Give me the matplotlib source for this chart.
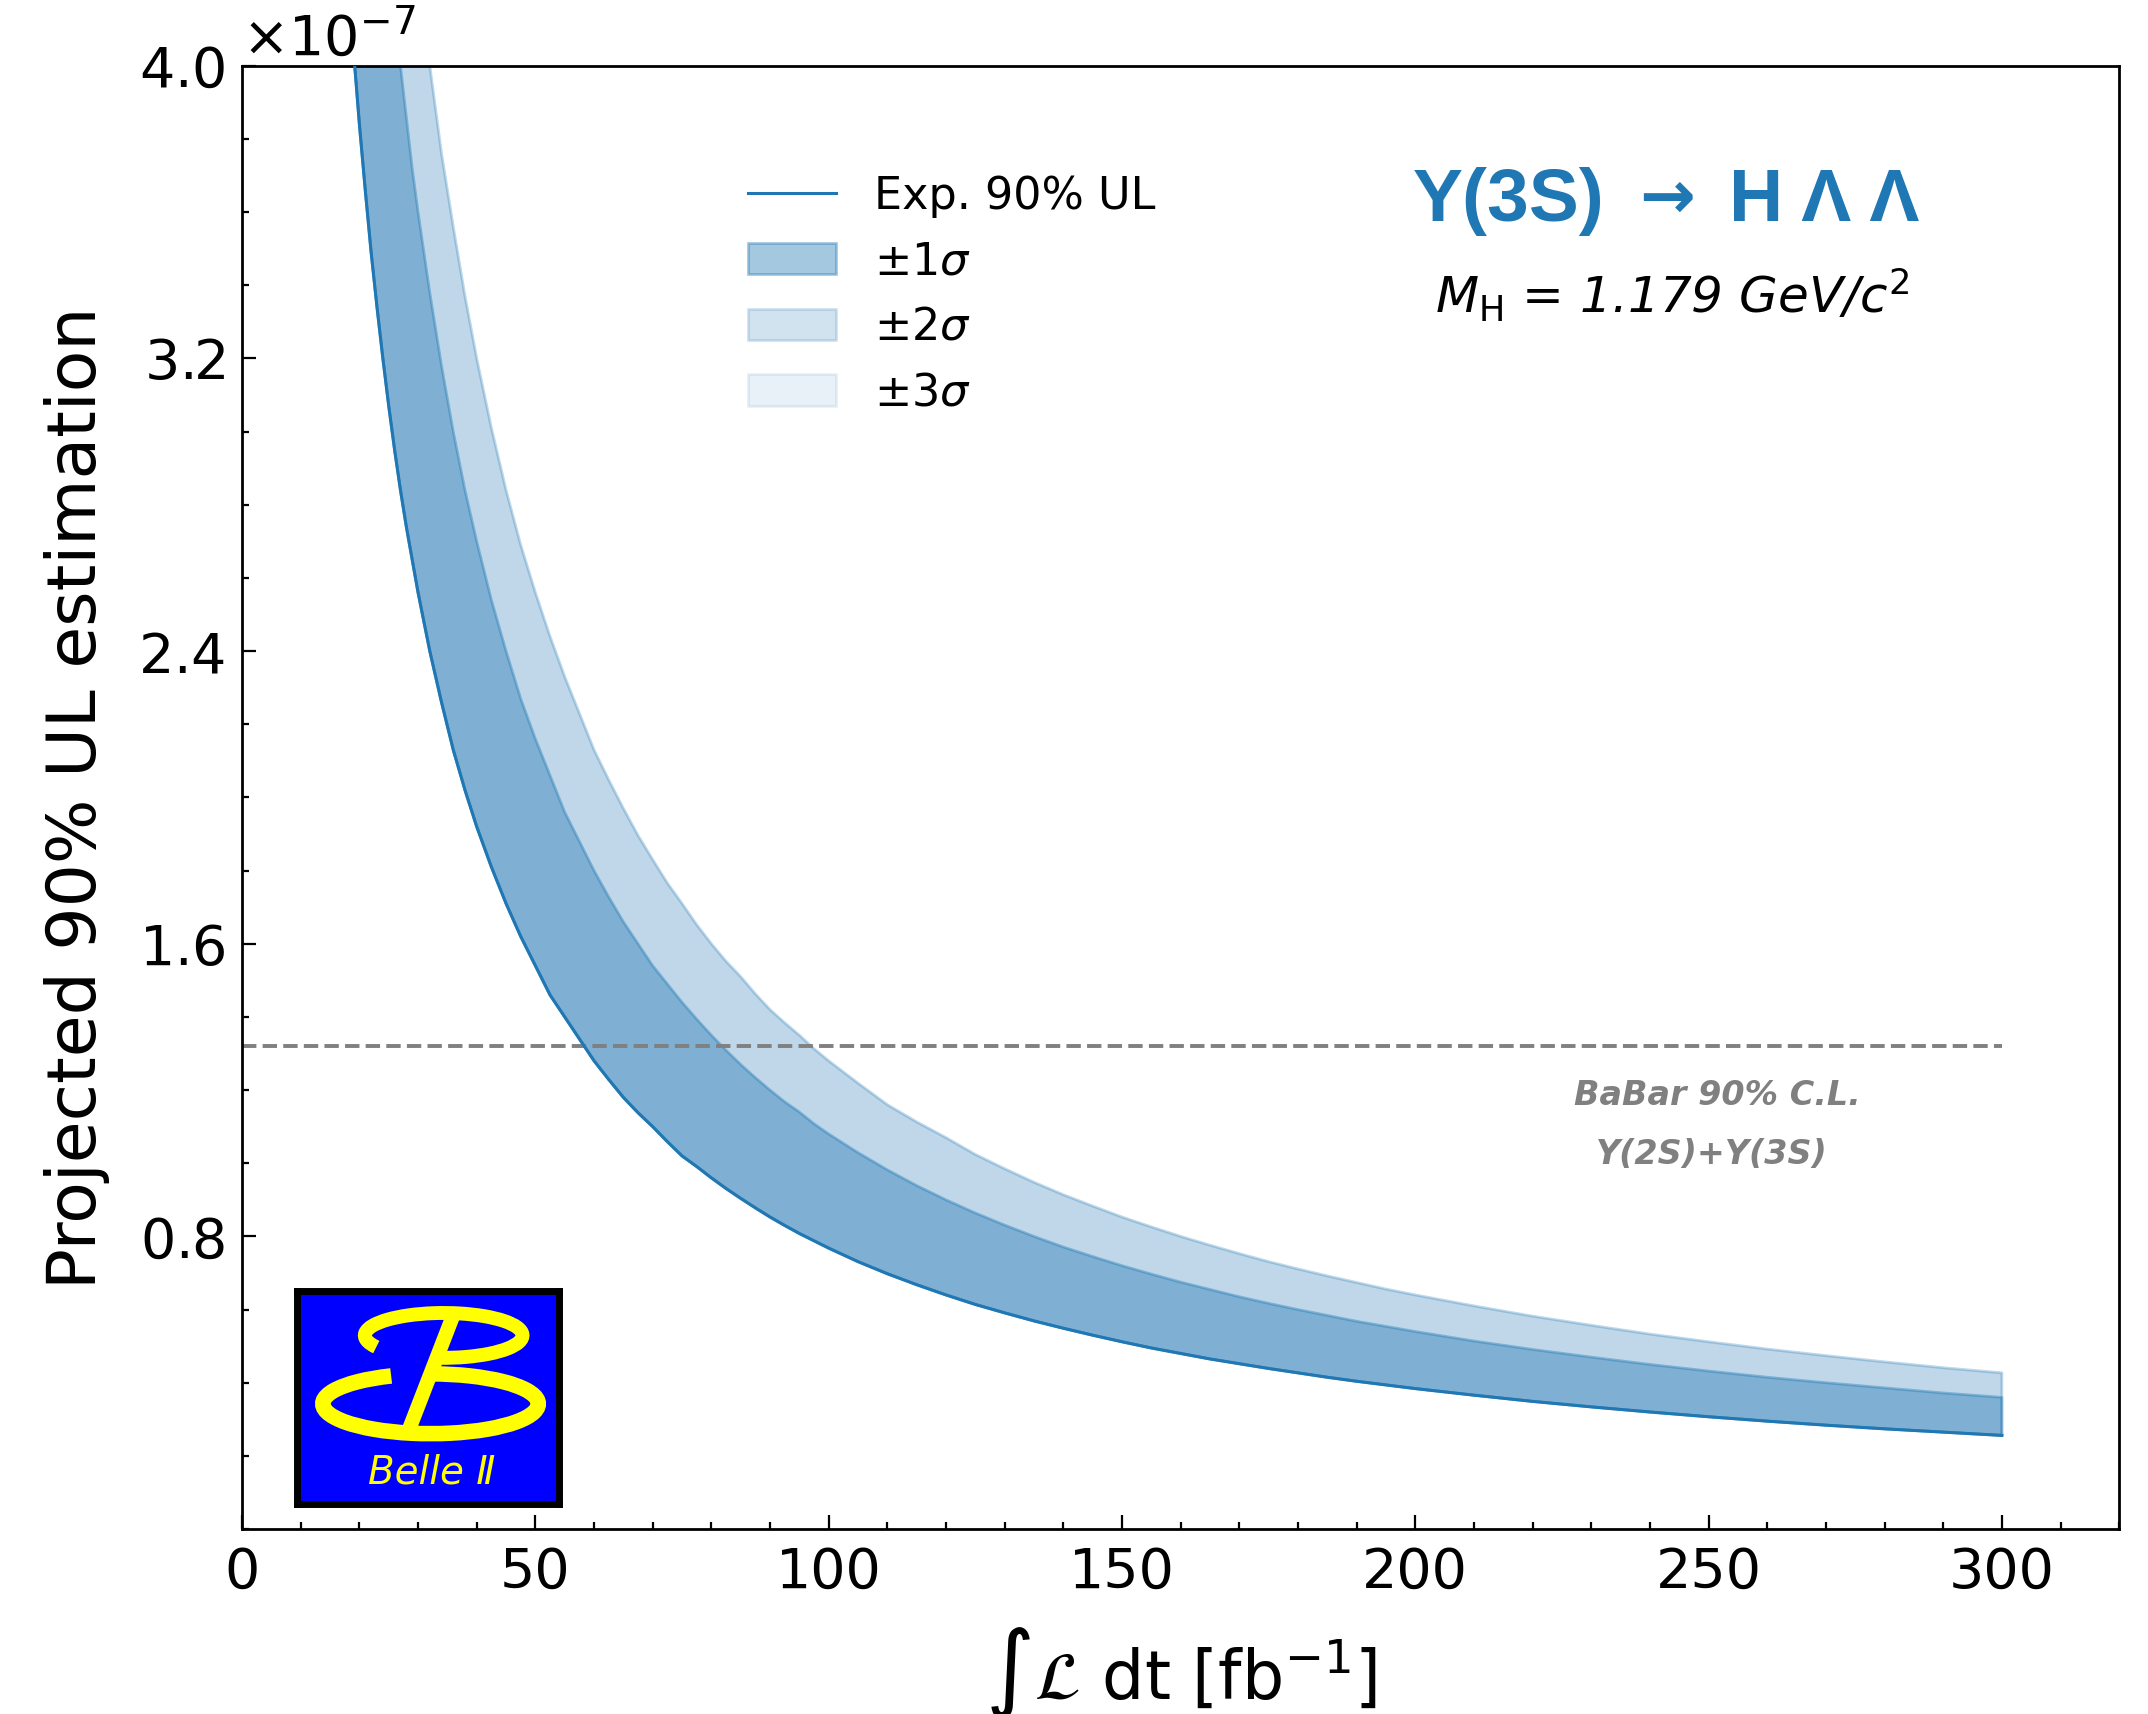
"""Projected 90% upper limit on B(Y(3S) -> H Lambda Lambda) versus integrated luminosity."""

import numpy as np
import matplotlib
matplotlib.use('Agg')  # Non-interactive backend
import matplotlib.pyplot as plt
from matplotlib.ticker import MultipleLocator, ScalarFormatter
from matplotlib.patches import Arc

# Integrated luminosity [fb^-1]
lumi = [15, 16, 17, 18, 19, 20, 21, 22, 23, 24, 25, 26, 27, 28, 29, 30,
        32, 34, 36, 38, 40,
        42.5, 45, 47.5, 50, 52.5, 55, 57.5, 60, 62.5, 65, 67.5, 70, 72.5, 75,
        77.5, 80, 82.5, 85, 87.5, 90, 92.5, 95, 97.5, 100,
        105, 110, 115, 120, 125, 130, 135, 140, 145, 150, 155, 160, 165, 170,
        175, 180, 185, 190, 195, 200,
        210, 220, 230, 240, 250, 260, 270, 280, 290, 300]

# Expected 90% UL (units of 1e-7)
exp_ul = [5.12, 4.80, 4.52, 4.27, 4.04, 3.84, 3.66, 3.49, 3.34, 3.20, 3.07,
          2.95, 2.84, 2.74, 2.65, 2.56,
          2.40, 2.26, 2.13, 2.02, 1.92,
          1.81, 1.71, 1.62, 1.54, 1.46, 1.40, 1.34, 1.28, 1.229, 1.18, 1.138,
          1.10, 1.059, 1.02, 0.991, 0.960, 0.931, 0.904, 0.878, 0.853, 0.830,
          0.808, 0.788, 0.768,
          0.731, 0.698, 0.668, 0.640, 0.614, 0.591, 0.569, 0.549, 0.530,
          0.512, 0.495, 0.480, 0.465, 0.452, 0.439, 0.427, 0.415, 0.404,
          0.394, 0.384,
          0.366, 0.349, 0.334, 0.320, 0.307, 0.295, 0.284, 0.274, 0.265,
          0.256]

# Upper edges of the +1 sigma / +2 sigma bands (units of 1e-7)
sigma1_up = [7.20, 6.75, 6.35, 6.00, 5.68, 5.40, 5.14, 4.91, 4.70, 4.50, 4.32,
             4.15, 4.00, 3.86, 3.72, 3.60,
             3.38, 3.18, 3.00, 2.84, 2.70,
             2.54, 2.40, 2.27, 2.16, 2.06, 1.96, 1.88, 1.80, 1.728, 1.66,
             1.600, 1.54, 1.490, 1.44, 1.394, 1.35, 1.309, 1.27, 1.234, 1.20,
             1.168, 1.14, 1.108, 1.08,
             1.029, 0.982, 0.939, 0.900, 0.864, 0.831, 0.800, 0.771, 0.745,
             0.720, 0.697, 0.675, 0.655, 0.635, 0.617, 0.600, 0.584, 0.568,
             0.554, 0.540,
             0.514, 0.491, 0.470, 0.450, 0.432, 0.415, 0.400, 0.386, 0.372,
             0.360]
sigma2_up = [8.53, 8.00, 7.53, 7.11, 6.74, 6.40, 6.10, 5.82, 5.57, 5.33, 5.12,
             4.92, 4.74, 4.57, 4.41, 4.27,
             4.00, 3.76, 3.56, 3.37, 3.20,
             3.01, 2.84, 2.69, 2.56, 2.44, 2.33, 2.23, 2.13, 2.048, 1.97,
             1.896, 1.83, 1.766, 1.71, 1.652, 1.60, 1.552, 1.51, 1.463, 1.42,
             1.384, 1.35, 1.313, 1.28,
             1.219, 1.16, 1.113, 1.07, 1.024, 0.985, 0.948, 0.914, 0.883,
             0.853, 0.826, 0.800, 0.776, 0.753, 0.731, 0.711, 0.692, 0.674,
             0.656, 0.640,
             0.610, 0.582, 0.557, 0.533, 0.512, 0.492, 0.474, 0.457, 0.441,
             0.427]
# the +3 sigma edge runs along the +2 sigma one over this range
sigma3_up = list(sigma2_up)

babar_limit = 1.32  # units of 1e-7
babar_lumi_max = 300
scale = 1e-7

x = np.array(lumi)
y_exp = np.array(exp_ul) * scale
y_1s = np.array(sigma1_up) * scale
y_2s = np.array(sigma2_up) * scale
y_3s = np.array(sigma3_up) * scale

blue = '#1f77b4'
gray = '#808080'
yellow = '#ffff00'

fig = plt.figure(figsize=(10.74, 8.57), dpi=200)
ax = fig.add_axes([0.1127, 0.1079, 0.8739, 0.8537])

line, = ax.plot(x, y_exp, color=blue, lw=1.1, label='Exp. 90% UL', zorder=4)
band1 = ax.fill_between(x, y_exp, y_1s, color=blue, alpha=0.4, lw=1.0,
                        label=r'$\pm1\sigma$')
band2 = ax.fill_between(x, y_exp, y_2s, color=blue, alpha=0.2, lw=1.0,
                        label=r'$\pm2\sigma$')
band3 = ax.fill_between(x, y_exp, y_3s, color=blue, alpha=0.1, lw=1.0,
                        label=r'$\pm3\sigma$')

# BaBar limit
ax.plot([0, babar_lumi_max], [babar_limit * scale] * 2, ls='--',
        color=gray, lw=1.4)
ax.text(251.5, 1.185e-7, 'BaBar 90% C.L.', ha='center', va='center',
        fontsize=12, color=gray, fontweight='bold', style='italic')
ax.text(250.5, 1.025e-7, 'Υ(2S)+Υ(3S)', ha='center', va='center',
        fontsize=12, color=gray, fontweight='bold', style='italic')

ax.set_xlim(0, 320)
ax.set_ylim(0, 4.0e-7)
ax.set_yticks(np.arange(0.8, 4.01, 0.8) * scale)
ax.xaxis.set_major_locator(MultipleLocator(50))
ax.xaxis.set_minor_locator(MultipleLocator(10))
ax.yaxis.set_minor_locator(MultipleLocator(0.2e-7))

fmt = ScalarFormatter(useMathText=True)
fmt.set_powerlimits((0, 0))
ax.yaxis.set_major_formatter(fmt)
ax.yaxis.get_offset_text().set_fontsize(20)
ax.yaxis.OFFSETTEXTPAD = 4

ax.tick_params(which='both', direction='in', top=False, right=False,
               labelsize=20, width=0.8)
ax.tick_params(which='major', length=5, pad=6)
ax.tick_params(which='minor', length=2.5)
for s in ax.spines.values():
    s.set_linewidth(1.0)

ax.set_xlabel(r'$\int\mathcal{L}\ \mathrm{dt}\ [\mathrm{fb}^{-1}]$', fontsize=24,
              labelpad=9)
ax.set_ylabel('Projected 90% UL estimation', fontsize=24.5, labelpad=10)

ax.legend(handles=[line, band1, band2, band3], loc='upper left',
          bbox_to_anchor=(0.248, 0.953), frameon=False, fontsize=16,
          handlelength=2.0, labelspacing=0.51, handletextpad=0.85)

# decay channel title
title_font = ['Liberation Sans', 'DejaVu Sans']
ax.text(0.726, 0.907, 'Υ(3S)', transform=ax.transAxes, ha='right',
        va='center', fontsize=27, fontweight='bold', color=blue,
        family=title_font)
ax.text(0.759, 0.909, '→', transform=ax.transAxes, ha='center',
        va='center', fontsize=24, fontweight='bold', color=blue,
        family='DejaVu Sans')
ax.text(0.792, 0.907, 'H Λ Λ', transform=ax.transAxes, ha='left',
        va='center', fontsize=27, fontweight='bold', color=blue,
        family=title_font)
ax.text(0.762, 0.843, r'$M_{\rm H}$ = 1.179 GeV/$c^2$', transform=ax.transAxes,
        ha='center', va='center', fontsize=18, style='italic')

# Belle II logo: blue tile with the script B drawn from two open loops and a stem
logo = ax.inset_axes([0.029, 0.017, 0.14, 0.146])
logo.set_facecolor('#0000ff')
logo.set_xticks([])
logo.set_yticks([])
logo.set_xlim(0, 1)
logo.set_ylim(0, 1)
for s in logo.spines.values():
    s.set_linewidth(2.5)
    s.set_color('black')

logo.add_patch(Arc((0.51, 0.47), 0.82, 0.28, theta1=139, theta2=90,
                   color=yellow, lw=5.6, capstyle='butt'))
logo.add_patch(Arc((0.56, 0.79), 0.60, 0.21, theta1=262, theta2=192,
                   color=yellow, lw=5.0, capstyle='butt'))
logo.plot([0.425, 0.595], [0.34, 0.88], color=yellow, lw=5.2,
          solid_capstyle='butt')
logo.text(0.516, 0.15, 'Belle Ⅱ', ha='center', va='center', fontsize=14,
          color=yellow, style='italic')

fig.savefig('out.png', dpi=200)
